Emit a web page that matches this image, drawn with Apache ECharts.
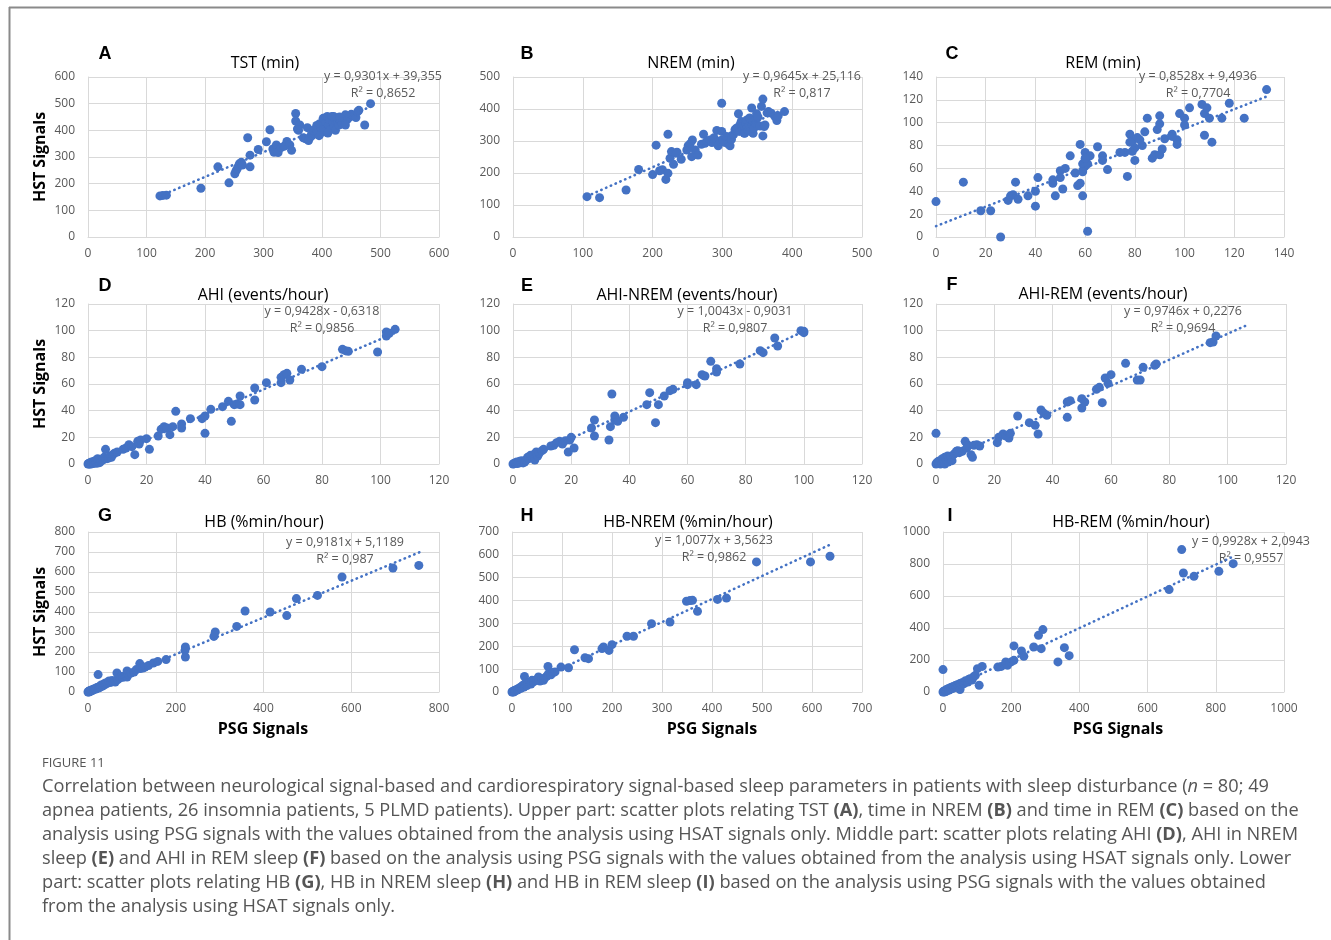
<!DOCTYPE html>
<html>
<head>
<meta charset="utf-8">
<title>Figure 11</title>
<script src="https://cdn.jsdelivr.net/npm/echarts@6/dist/echarts.min.js"></script>
<style>
  html, body { margin: 0; padding: 0; background: #ffffff; }
  #chart { width: 1331px; height: 940px; }
</style>
</head>
<body>
<div id="chart"></div>
<script>
// ---- Data: [PSG value, HST value] per patient ----
const tstPoints = [[123,154],[128,156],[134,157],[193,183],[222,263],[241,203],[251,237],[253,248],[255,256],[257,266],[259,275],[262,280],[264,270],[273,372],[277,263],[277,307],[291,328],[305,357],[311,402],[316,330],[318,318],[322,345],[325,317],[330,335],[335,340],[340,358],[345,345],[348,325],[355,463],[355,435],[358,405],[362,420],[368,372],[372,368],[375,410],[377,362],[380,375],[383,380],[386,390],[389,395],[391,418],[394,403],[396,425],[399,392],[402,445],[403,410],[405,395],[407,430],[409,452],[411,418],[413,440],[415,405],[417,452],[419,430],[421,415],[423,400],[425,445],[427,430],[429,420],[431,438],[434,428],[437,445],[440,458],[443,440],[447,450],[450,460],[454,455],[458,448],[461,470],[463,475],[473,420],[483,500],[400,400],[395,380],[410,390],[385,400],[420,452],[430,450],[360,400],[440,420]];
const nremPoints = [[106,126],[124,123],[162,147],[180,211],[200,195],[205,287],[210,207],[214,210],[219,180],[222,199],[222,321],[225,246],[227,267],[230,227],[233,262],[235,265],[241,243],[249,272],[251,285],[254,292],[256,251],[257,303],[261,272],[265,256],[270,290],[273,321],[275,293],[278,300],[282,303],[285,295],[288,310],[292,333],[294,285],[297,300],[299,418],[299,330],[301,303],[304,295],[306,314],[309,290],[311,285],[313,305],[316,320],[318,335],[320,340],[323,385],[324,330],[325,350],[327,361],[328,345],[330,340],[331,325],[332,324],[334,355],[335,366],[336,335],[337,345],[339,372],[340,330],[342,403],[343,350],[344,324],[345,340],[347,366],[348,355],[349,385],[351,375],[354,347],[356,408],[358,431],[358,316],[360,345],[361,350],[364,388],[366,392],[370,387],[375,377],[378,364],[380,379],[389,392]];
const remPoints = [[0,31],[11,48],[18,23],[22,23],[26,0],[29,32],[30,36],[31,37],[32,48],[33,33],[37,36],[40,40],[40,27],[41,52],[47,47],[47,50],[48,36],[50,58],[50,52],[51,42],[52,60],[54,71],[56,56],[57,45],[58,81],[58,47],[59,36],[59,64],[59,58],[60,74],[60,62],[61,64],[61,5],[62,71],[65,79],[67,71],[67,67],[69,59],[74,74],[76,74],[77,53],[78,90],[79,84],[79,75],[80,67],[80,78],[81,87],[83,80],[84,92],[85,104],[87,69],[88,72],[89,94],[90,99],[90,106],[90,72],[91,77],[92,86],[95,90],[97,85],[97,81],[98,108],[100,104],[100,98],[102,113],[107,116],[108,89],[108,108],[109,113],[110,104],[111,83],[115,104],[118,117],[124,104],[133,129],[59,57],[78,83],[82,85],[95,88],[60,69]];
const ahiPoints = [[0,0],[0.2,0.2],[0.3,0.5],[0.5,0],[0.8,1],[1,0.5],[1,0],[1.2,1.5],[1.5,1],[1.8,0.3],[2,2],[2,0.8],[2.3,1.2],[2.6,2.5],[3,3],[3,0.5],[3.3,4],[3.5,1.8],[4,1],[4,3],[4.5,2.5],[5,3],[5.5,5],[6,11],[6.5,4],[7,4.5],[7.5,6],[8,5],[8.5,7],[9,8],[10,9],[12,11],[13,12],[14,14.5],[15,13],[16,7],[17,17],[17.5,15],[18,18],[20,19],[21,11],[24,21],[25,26],[26,28],[27,27],[28,22],[29,28],[30,39.5],[32,27],[32,30],[35,34],[39,34],[40,36],[40,23],[42,41],[46,43],[48,47],[49,32],[50,44.5],[51,45],[52,51],[52,44.5],[57,57],[57,48],[61,61],[66,61],[66,65],[67,67],[68,68],[69,63],[73,71],[80,73],[87,86],[88,85],[89,84.5],[99,84],[102,96],[102,99],[103,98],[105,101]];
const ahiNremPoints = [[0,0],[0.3,0.2],[0.6,0.8],[1,0.5],[1.3,1.5],[1.6,0.3],[2,1.2],[2.3,2],[2.7,1],[3,2.5],[3.5,0.8],[4,1.5],[4.5,3],[5,5],[5.5,4],[6,6.5],[7,7],[7.5,3],[8,9],[8.5,6],[9,8],[10,10],[10.5,11],[13,13.5],[14,14],[15,16],[16,17],[17,15],[18,17.5],[19,9],[19.5,18],[20,20],[21,12],[27,27],[28,33],[28,21],[33,18],[33.5,28],[34,52.5],[35,36],[35,33],[36,32],[38,35],[46,44.5],[47,53.5],[49,31],[50,44.5],[52,51],[54,55],[55,56],[60,61],[60,59.5],[63,59.5],[65,67],[66,66],[68,77],[70,71.5],[70,69],[78,75],[85,85],[86,83.5],[90,94.5],[91,88.5],[99,100],[100,99.5],[100,98.5]];
const ahiRemPoints = [[0,23],[0,0],[0.3,1],[0.5,0.3],[0.8,2],[1,0.5],[1.2,1.5],[1.5,0],[1.8,3],[2,1],[2.2,4],[2.5,2],[3,5],[3,0],[3.5,3],[4,6],[4.2,1.5],[4.5,4],[5,5.5],[5.5,2.5],[6,7],[6.5,8],[7,9.5],[7.5,10],[8,8.5],[9,9.5],[10,17],[10.5,12],[11,14],[12,7],[12.5,5],[13,14],[14,14.5],[15,13.5],[21,16],[21.5,20],[23,22.5],[24,21],[25,19.5],[25.5,23],[28,36],[32,31],[34,29],[35,22.5],[36,40.5],[37,38],[38,36.5],[45,35],[45,46.5],[46,47.5],[50,49],[50,42],[51,46.5],[55,56],[56,57.5],[57,46],[58,64.5],[59,60.5],[60,67],[65,75.5],[69,63],[70,63],[71,72.5],[75,74],[75.5,75],[94,91],[95,91.5],[96,96]];
const hbPoints = [[0,0],[1,2],[2,0],[3,5],[4,3],[5,8],[6,4],[8,10],[10,7],[12,14],[14,12],[16,18],[18,15],[20,22],[23,87],[24,20],[26,28],[28,25],[30,35],[33,30],[36,40],[38,36],[40,45],[43,42],[46,50],[48,55],[52,48],[55,58],[58,52],[62,50],[66,95],[68,62],[72,70],[76,78],[80,74],[85,82],[89,105],[89,75],[92,88],[98,95],[105,100],[110,112],[118,142],[119,117],[125,120],[130,125],[138,132],[149,145],[159,153],[178,162],[221,208],[222,225],[222,175],[287,278],[290,300],[339,328],[358,405],[415,400],[453,382],[475,467],[523,483],[579,575],[695,620],[754,633]];
const hbNremPoints = [[0,0],[1,1],[2,3],[3,0],[4,5],[5,3],[6,8],[8,6],[10,12],[12,10],[14,15],[16,20],[18,16],[20,25],[22,30],[24,22],[25,68],[26,35],[28,40],[30,28],[32,38],[35,42],[38,35],[40,51],[43,45],[46,50],[50,55],[53,66],[56,48],[60,58],[63,51],[66,62],[70,70],[72,112],[73,80],[78,75],[82,85],[86,88],[98,109],[113,106],[125,185],[146,150],[153,146],[180,190],[183,197],[194,182],[200,207],[230,244],[243,244],[279,299],[316,306],[349,397],[356,400],[361,401],[371,353],[411,405],[429,411],[489,569],[597,569],[636,594]];
const hbRemPoints = [[0,140],[0,0],[2,5],[4,0],[6,10],[8,3],[10,15],[12,8],[15,20],[18,12],[20,25],[22,18],[25,30],[28,22],[30,35],[33,28],[36,40],[40,32],[42,45],[45,38],[48,50],[50,15],[52,55],[55,45],[58,60],[62,52],[66,70],[70,65],[73,62],[76,80],[80,83],[85,75],[90,95],[95,104],[101,146],[106,42],[115,160],[161,156],[171,160],[184,188],[189,167],[200,188],[208,198],[208,288],[230,256],[237,223],[266,281],[280,354],[288,271],[293,390],[337,188],[356,277],[370,227],[663,640],[700,890],[705,744],[736,723],[809,754],[851,802]];

// ---- Linear fits (HST = slope * PSG + intercept) ----
const panelLetters = ['A','B','C','D','E','F','G','H','I'];
const panelTitles = ['TST (min)','NREM (min)','REM (min)','AHI (events/hour)','AHI-NREM (events/hour)','AHI-REM (events/hour)','HB (%min/hour)','HB-NREM (%min/hour)','HB-REM (%min/hour)'];
const slopes = [0.9301, 0.9645, 0.8528, 0.9428, 1.0043, 0.9746, 0.9181, 1.0077, 0.9928];
const intercepts = [39.355, 25.116, 9.4936, -0.6318, -0.9031, 0.2276, 5.1189, 3.5623, 2.0943];
const rSquared = [0.8652, 0.817, 0.7704, 0.9856, 0.9807, 0.9694, 0.987, 0.9862, 0.9557];
const trendFrom = [123, 106, 0, 0, 0, 0, 0, 0, 0];
const trendTo = [483, 389, 133, 105, 100, 106, 757, 636, 853];

// ---- Axis scales ----
const xMax = [600, 500, 140, 120, 120, 120, 800, 700, 1000];
const xStep = [100, 100, 20, 20, 20, 20, 200, 100, 200];
const yMax = [600, 500, 140, 120, 120, 120, 800, 700, 1000];
const yStep = [100, 100, 20, 20, 20, 20, 100, 100, 200];

const allPoints = [tstPoints, nremPoints, remPoints, ahiPoints, ahiNremPoints, ahiRemPoints, hbPoints, hbNremPoints, hbRemPoints];

// ---- Layout of the 3x3 panel grid (pixels) ----
const gridBoxes = [
  [88, 77, 351, 160], [513, 77, 349, 160], [936, 77, 348, 160],
  [88, 304, 351, 160], [513, 304, 349, 160], [936, 304, 350, 160],
  [88, 532, 351, 160], [512, 532, 350, 160], [943, 532, 341, 160]
];
const titlePos = [[265,63],[691,63],[1103,63],[263,295],[687,295],[1103,294],[264,522],[688,522],[1131,522]];
const letterPos = [[105,54],[527,54],[952,54],[105,286],[527,286],[952,285],[105,516],[527,516],[950,516]];
const eqPos = [[383,85],[802,85],[1198,85],[322,320],[735,320],[1183,320],[345,551],[714,549],[1251,550]];

const BLUE = '#4472C4';
const GRID_COLOR = '#d9d9d9';
const TICK_COLOR = '#595959';
const FONT = '"Open Sans", "Noto Sans", sans-serif';

const fmt = v => String(Math.abs(v)).replace('.', ',');

const grids = [], xAxes = [], yAxes = [], series = [], graphics = [];

allPoints.forEach((pts, i) => {
  const [l, t, w, h] = gridBoxes[i];
  grids.push({ left: l, top: t, width: w, height: h, containLabel: false });
  const axisCommon = {
    type: 'value', min: 0,
    axisLine: { show: true, lineStyle: { color: GRID_COLOR, width: 1 } },
    axisTick: { show: false },
    splitLine: { show: true, lineStyle: { color: GRID_COLOR, width: 1 } },
    axisLabel: { color: TICK_COLOR, fontSize: 12, fontFamily: FONT, formatter: v => String(v) }
  };
  xAxes.push(Object.assign({}, axisCommon, {
    gridIndex: i, max: xMax[i], interval: xStep[i],
    axisLabel: Object.assign({}, axisCommon.axisLabel, { margin: 11 })
  }));
  yAxes.push(Object.assign({}, axisCommon, {
    gridIndex: i, max: yMax[i], interval: yStep[i],
    axisLabel: Object.assign({}, axisCommon.axisLabel, { margin: 13 })
  }));
  series.push({
    type: 'scatter', xAxisIndex: i, yAxisIndex: i,
    data: pts, symbolSize: 9, itemStyle: { color: BLUE, opacity: 1 },
    silent: true, z: 3
  });
  const a = slopes[i], b = intercepts[i];
  series.push({
    type: 'line', xAxisIndex: i, yAxisIndex: i,
    data: [[trendFrom[i], a * trendFrom[i] + b], [trendTo[i], a * trendTo[i] + b]],
    showSymbol: false, silent: true, z: 4,
    lineStyle: { color: BLUE, width: 2.6, type: [0.4, 4.8], cap: 'round' }
  });

  // panel title
  graphics.push({ type: 'text', z: 1, style: {
    text: panelTitles[i], x: titlePos[i][0], y: titlePos[i][1],
    textAlign: 'center', textVerticalAlign: 'middle',
    font: '16px ' + FONT, fill: '#000000' } });
  // panel letter
  graphics.push({ type: 'text', z: 1, style: {
    text: panelLetters[i], x: letterPos[i][0], y: letterPos[i][1],
    textAlign: 'center', textVerticalAlign: 'middle',
    font: 'bold 18px "Liberation Sans", Arial, sans-serif', fill: '#000000' } });
  // regression equation
  const eq = 'y = ' + fmt(a) + 'x ' + (b < 0 ? '- ' : '+ ') + fmt(b) + '\nR\u00B2 = ' + fmt(rSquared[i]);
  graphics.push({ type: 'text', z: 1, style: {
    text: eq, x: eqPos[i][0], y: eqPos[i][1],
    textAlign: 'center', textVerticalAlign: 'middle', lineHeight: 17,
    font: '12.5px ' + FONT, fill: TICK_COLOR } });
});

// axis titles
[157, 384, 612].forEach(cy => {
  graphics.push({ type: 'text', z: 1, rotation: Math.PI / 2, x: 40, y: cy, style: {
    text: 'HST Signals', x: 0, y: 0, textAlign: 'center', textVerticalAlign: 'middle',
    font: 'bold 16px ' + FONT, fill: '#000000' } });
});
[[263, 729], [712, 729], [1118, 729]].forEach(p => {
  graphics.push({ type: 'text', z: 1, style: {
    text: 'PSG Signals', x: p[0], y: p[1], textAlign: 'center', textVerticalAlign: 'middle',
    font: 'bold 16px ' + FONT, fill: '#000000' } });
});

// figure frame
graphics.push({ type: 'line', z: 0, shape: { x1: 9, y1: 7.5, x2: 1331, y2: 7.5 }, style: { stroke: '#8a8a8a', lineWidth: 2 } });
graphics.push({ type: 'line', z: 0, shape: { x1: 9.5, y1: 7, x2: 9.5, y2: 940 }, style: { stroke: '#8a8a8a', lineWidth: 2 } });

// caption
const CAP_COLOR = '#555555';
const CAP_FONT = '"Open Sans", "Noto Sans", sans-serif';
graphics.push({ type: 'text', z: 1, style: {
  text: 'FIGURE 11', x: 42, y: 763, textAlign: 'left', textVerticalAlign: 'middle',
  font: '500 13px ' + CAP_FONT, fill: CAP_COLOR } });
const captionLines = [
  'Correlation between neurological signal-based and cardiorespiratory signal-based sleep parameters in patients with sleep disturbance ({i|n} = 80; 49',
  'apnea patients, 26 insomnia patients, 5 PLMD patients). Upper part: scatter plots relating TST {b|(A)}, time in NREM {b|(B)} and time in REM {b|(C)} based on the',
  'analysis using PSG signals with the values obtained from the analysis using HSAT signals only. Middle part: scatter plots relating AHI {b|(D)}, AHI in NREM',
  'sleep {b|(E)} and AHI in REM sleep {b|(F)} based on the analysis using PSG signals with the values obtained from the analysis using HSAT signals only. Lower',
  'part: scatter plots relating HB {b|(G)}, HB in NREM sleep {b|(H)} and HB in REM sleep {b|(I)} based on the analysis using PSG signals with the values obtained',
  'from the analysis using HSAT signals only.'
];
const capSize = 18.2;
captionLines.forEach((line, k) => {
  graphics.push({ type: 'text', z: 1, style: {
    text: line, x: 42, y: 787 + k * 24, textAlign: 'left', textVerticalAlign: 'middle',
    fontSize: capSize, fontFamily: CAP_FONT, fill: CAP_COLOR,
    rich: {
      b: { fontSize: capSize, fontFamily: CAP_FONT, fontWeight: 'bold', fill: CAP_COLOR, color: CAP_COLOR },
      i: { fontSize: capSize, fontFamily: CAP_FONT, fontStyle: 'italic', fill: CAP_COLOR, color: CAP_COLOR }
    } } });
});

const chart = echarts.init(document.getElementById('chart'), null, { renderer: 'canvas' });
chart.setOption({
  backgroundColor: '#ffffff',
  animation: false,
  grid: grids,
  xAxis: xAxes,
  yAxis: yAxes,
  series: series,
  graphic: { elements: graphics }
});
</script>
</body>
</html>
